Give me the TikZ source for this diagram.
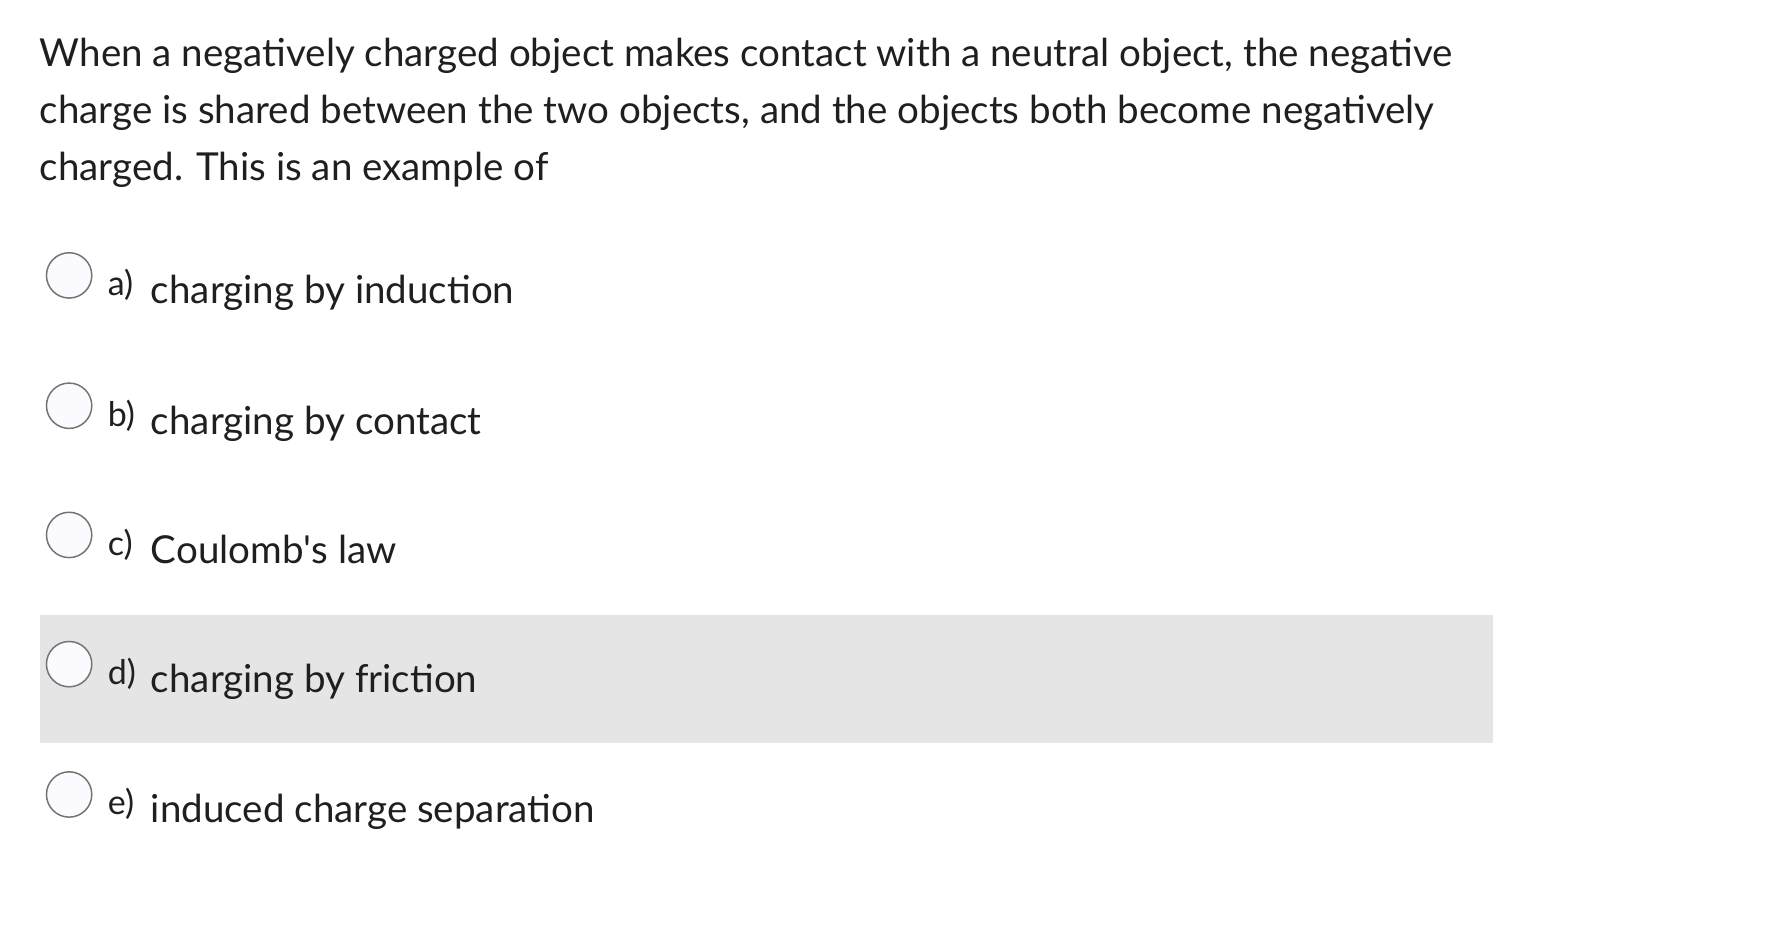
\documentclass[tikz,border=0pt]{standalone}
\usepackage{fontspec}
\setmainfont{Lato}
\begin{document}
\begin{tikzpicture}[x=1pt,y=-1pt,
  q/.style={anchor=base west,inner sep=0pt,font=\fontsize{34}{40}\selectfont,text=black!88},
  lab/.style={anchor=base west,inner sep=0pt,font=\fontsize{30}{36}\selectfont,text=black!88},
  radio/.style={circle,draw=black!55,line width=1.3pt,fill=blue!2,minimum size=40pt,inner sep=0pt}]
\useasboundingbox (0,0) rectangle (1560,822);
\fill[black!10] (35,543) rectangle (1317,656);
\node[q] (l1) at (35,59) {When a negatively charged object makes contact with a neutral object, the negative};
\node[q] (l2) at (35,109) {charge is shared between the two objects, and the objects both become negatively};
\node[q] (l3) at (35,159) {charged. This is an example of};
\foreach \n/\y/\l/\t in {a/243/a)/charging by induction,b/358/b)/charging by contact,c/472/c)/Coulomb\textquotesingle s law,d/586/d)/charging by friction,e/701/e)/induced charge separation}{
  \node[radio] (r\n) at (61,\y) {};
  \node[lab] (k\n) at (95,\y+18) {\l};
  \node[q] (t\n) at (133,\y+25) {\t};
}
\end{tikzpicture}
\end{document}
